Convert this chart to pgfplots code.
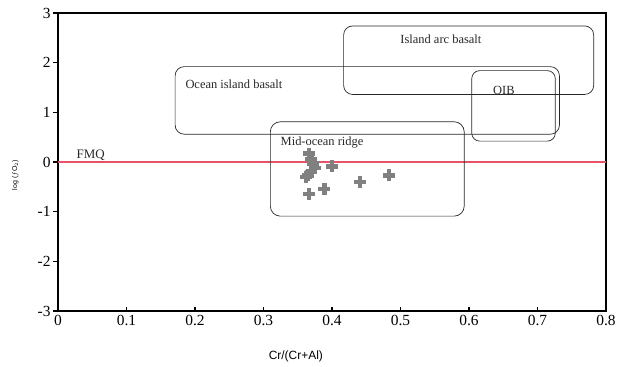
\documentclass[border=0pt]{standalone}
\usepackage{pgfplots}
\pgfplotsset{compat=1.18}
\usepackage{fontspec}
\setmainfont{Liberation Serif}
\setsansfont{Liberation Sans}
\definecolor{fmq}{RGB}{232,82,104}
\definecolor{pts}{RGB}{128,128,128}
\definecolor{boxc}{RGB}{40,40,40}
\begin{document}
\begin{tikzpicture}
\path (0,0) rectangle (629bp,367bp);
\begin{axis}[
  at={(58bp,56bp)}, anchor=south west,
  scale only axis, width=548bp, height=298bp,
  xmin=0, xmax=0.8, ymin=-3, ymax=3,
  xtick={0,0.1,...,0.8}, ytick={-3,-2,...,3},
  xticklabels={0,0.1,0.2,0.3,0.4,0.5,0.6,0.7,0.8},
  yticklabels={-3,-2,-1,0,1,2,3},
  xtick pos=bottom, ytick pos=left,
  major tick length=4.5bp,
  ytick style={xshift=-4.5bp},
  tick style={line width=1.5bp, black},
  axis line style={line width=1.6bp},
  tick label style={font=\fontsize{15.5}{15.5}\selectfont},
  yticklabel style={xshift=-4bp},
  xticklabel style={yshift=-1bp},
  /pgf/number format/assume math mode=true,
  clip=false,
]
% FMQ line
\addplot[fmq, line width=2.6bp] coordinates {(0,0) (0.8,0)};
% regions
\draw[boxc, line width=0.7bp, rounded corners=9bp] (axis cs:0.171,0.56) rectangle (axis cs:0.732,1.92);
\draw[boxc, line width=0.7bp, rounded corners=9bp] (axis cs:0.417,1.36) rectangle (axis cs:0.782,2.74);
\draw[boxc, line width=0.7bp, rounded corners=8bp] (axis cs:0.604,0.42) rectangle (axis cs:0.726,1.84);
\draw[boxc, line width=0.7bp, rounded corners=10bp] (axis cs:0.310,-1.09) rectangle (axis cs:0.593,0.81);
% labels
\node[anchor=west, font=\fontsize{12.5}{12.5}\selectfont, text=boxc] at (axis cs:0.181,1.56) {Ocean island basalt};
\node[font=\fontsize{12.5}{12.5}\selectfont, text=boxc] at (axis cs:0.559,2.48) {Island arc basalt};
\node[font=\fontsize{12.5}{12.5}\selectfont, text=boxc] at (axis cs:0.651,1.45) {OIB};
\node[anchor=west, font=\fontsize{12.5}{12.5}\selectfont, text=boxc] at (axis cs:0.320,0.40) {Mid-ocean ridge};
\node[anchor=west, font=\fontsize{13}{13}\selectfont, text=boxc] at (axis cs:0.022,0.13) {FMQ};
% axis labels
\node[font=\sffamily\fontsize{12}{12}\selectfont] at (axis description cs:0.434,-0.151) {Cr/(Cr+Al)};
\node[rotate=90, font=\sffamily\fontsize{7}{7}\selectfont] at (axis description cs:-0.078,0.456) {log ($f$O$_2$)};
% data
\addplot[only marks, mark=+, mark size=6bp, mark options={pts, line width=4.2bp}] coordinates {
(0.367,0.17) (0.370,0.05) (0.372,-0.03) (0.375,-0.12) (0.370,-0.20) (0.365,-0.27) (0.362,-0.30)
(0.400,-0.09) (0.441,-0.40) (0.483,-0.27) (0.366,-0.65) (0.389,-0.55)
};
\end{axis}
\end{tikzpicture}
\end{document}
